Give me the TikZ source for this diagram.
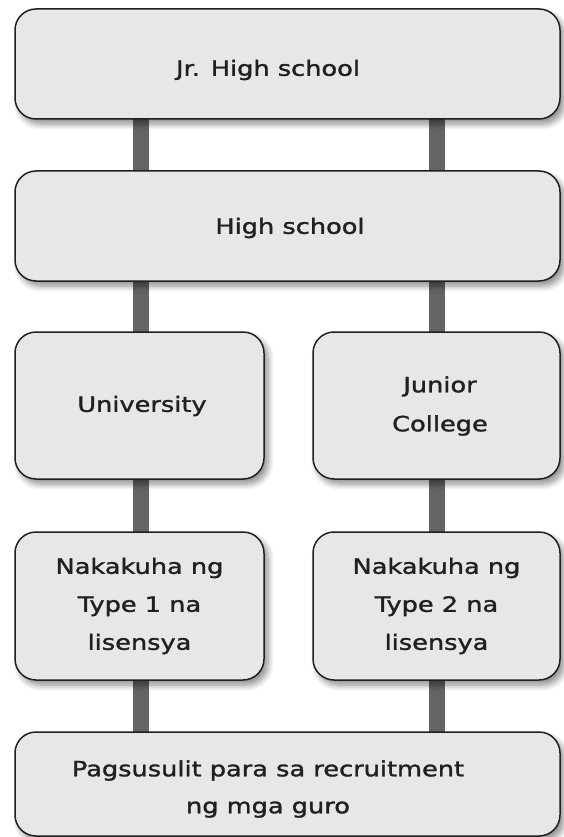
\documentclass[tikz,border=0pt]{standalone}
\usepackage{fontspec}
\setmainfont{DejaVu Sans}[FakeStretch=1.22, FakeBold=1.5]
\usetikzlibrary{shadows.blur}
\definecolor{boxfill}{HTML}{E6E7E8}
\definecolor{boxline}{HTML}{231F20}
\definecolor{linkgray}{HTML}{636466}
\tikzset{
  stagebox/.style={draw=boxline, line width=1.5pt, fill=boxfill, rounded corners=21pt,
    align=center, text=boxline, inner sep=0pt,
    font=\fontsize{21}{38}\selectfont,
    blur shadow={shadow xshift=4pt, shadow yshift=-5pt, shadow blur steps=8, shadow blur radius=6pt, shadow opacity=45}},
  boxtext/.style={align=center, text=boxline, inner sep=0pt, font=\fontsize{21}{37}\selectfont},
  link/.style={draw=linkgray, line width=16pt}
}
\begin{document}
\begin{tikzpicture}[x=1pt,y=-1pt]
\useasboundingbox (0,0) rectangle (563,837);
\coordinate (cl) at (141,0);
\coordinate (cr) at (437,0);
\coordinate (top) at (0,110);
\coordinate (bot) at (0,740);
\draw[link] (cl |- top) -- (cl |- bot);
\draw[link] (cr |- top) -- (cr |- bot);
\node[stagebox, minimum width=545pt, minimum height=110pt] (jhs) at (287.5,64) {};
\node[boxtext] (jhst) at (268,70) {Jr. High school};
\node[stagebox, minimum width=545pt, minimum height=110pt] (hs) at (287.5,226) {};
\node[boxtext] (hst) at (290,228) {High school};
\node[stagebox, minimum width=249pt, minimum height=147pt] (uni) at (139.5,405.5) {};
\node[boxtext] (unit) at (142,406) {University};
\node[stagebox, minimum width=247pt, minimum height=147pt] (jc) at (436.5,405.5) {};
\node[boxtext, font=\fontsize{21}{39}\selectfont] (jct) at (440,406) {Junior\\College};
\node[stagebox, minimum width=249pt, minimum height=148pt] (l1) at (139.5,606) {};
\node[boxtext, font=\fontsize{21}{38}\selectfont] (l1t) at (139.5,606) {Nakakuha ng\\Type 1 na\\lisensya};
\node[stagebox, minimum width=247pt, minimum height=148pt] (l2) at (436.5,606) {};
\node[boxtext, font=\fontsize{21}{38}\selectfont] (l2t) at (436.5,606) {Nakakuha ng\\Type 2 na\\lisensya};
\node[stagebox, minimum width=545pt, minimum height=104pt] (exam) at (287.5,784) {};
\node[boxtext] (examt) at (268,789) {Pagsusulit para sa recruitment\\ng mga guro};
\end{tikzpicture}
\end{document}
